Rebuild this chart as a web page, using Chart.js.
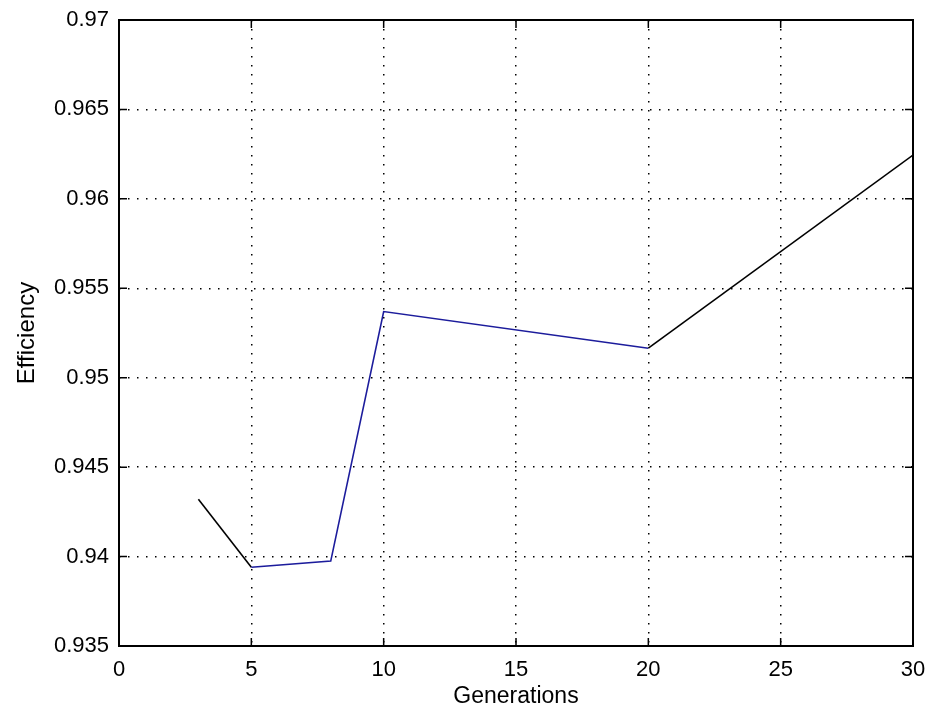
<!DOCTYPE html>
<html>
<head>
<meta charset="utf-8">
<script src="https://cdn.jsdelivr.net/npm/chart.js@4"></script>
<style>
  html, body { margin: 0; padding: 0; background: #fff; }
  #wrap { width: 930px; height: 710px; }
</style>
</head>
<body>
<div id="wrap"><canvas id="chart" width="930" height="710"></canvas></div>
<script>
const generations = [3, 5, 8, 10, 20, 30];
const efficiency = [0.9432, 0.9394, 0.93975, 0.9537, 0.95165, 0.96245];
const xTicks = [0, 5, 10, 15, 20, 25, 30];
const yTicks = [0.935, 0.94, 0.945, 0.95, 0.955, 0.96, 0.965, 0.97];

const BLACK = "#000000";
const BLUE = "#1c1c9c";
const FONT = "'Liberation Sans', Arial, sans-serif";

// MATLAB style box with inward tick marks
const boxPlugin = {
  id: "box",
  afterDraw(chart) {
    const { ctx, chartArea: a, scales } = chart;
    const len = 8;
    ctx.save();
    ctx.strokeStyle = BLACK;
    ctx.lineWidth = 1.5;
    ctx.beginPath();
    for (const v of xTicks) {
      const px = scales.x.getPixelForValue(v);
      ctx.moveTo(px, a.bottom);
      ctx.lineTo(px, a.bottom - len);
      ctx.moveTo(px, a.top);
      ctx.lineTo(px, a.top + len);
    }
    for (const v of yTicks) {
      const py = scales.y.getPixelForValue(v);
      ctx.moveTo(a.left, py);
      ctx.lineTo(a.left + len, py);
      ctx.moveTo(a.right, py);
      ctx.lineTo(a.right - len, py);
    }
    ctx.stroke();
    ctx.lineWidth = 2;
    ctx.strokeRect(a.left, a.top, a.right - a.left, a.bottom - a.top);
    ctx.restore();
  },
};

const points = generations.map((g, i) => ({ x: g, y: efficiency[i] }));

new Chart(document.getElementById("chart"), {
  type: "line",
  data: {
    datasets: [
      {
        data: points,
        borderColor: BLACK,
        borderWidth: 1.6,
        pointRadius: 0,
        tension: 0,
        segment: {
          borderColor(ctx) {
            const i = ctx.p0DataIndex;
            return i >= 1 && i <= 3 ? BLUE : BLACK;
          },
        },
      },
    ],
  },
  options: {
    responsive: false,
    animation: false,
    layout: { padding: { top: 20, right: 17, left: 0, bottom: 0 } },
    plugins: {
      legend: { display: false },
      tooltip: { enabled: false },
    },
    scales: {
      x: {
        type: "linear",
        min: 0,
        max: 30,
        afterBuildTicks(scale) {
          scale.ticks = xTicks.map((v) => ({ value: v }));
        },
        afterFit(scale) {
          scale.height = 64;
          scale.paddingLeft = 0;
          scale.paddingRight = 0;
        },
        border: { display: false, dash: [1.5, 7.5] },
        grid: {
          color: BLACK,
          lineWidth: 1.5,
          drawTicks: false,
        },
        ticks: {
          color: BLACK,
          padding: 11,
          font: { family: FONT, size: 22 },
          maxRotation: 0,
        },
        title: {
          display: true,
          text: "Generations",
          color: BLACK,
          padding: { top: 0, bottom: 0 },
          font: { family: FONT, size: 23 },
        },
      },
      y: {
        type: "linear",
        min: 0.935,
        max: 0.97,
        afterBuildTicks(scale) {
          scale.ticks = yTicks.map((v) => ({ value: v }));
        },
        afterFit(scale) {
          scale.width = 119;
          scale.paddingTop = 0;
          scale.paddingBottom = 0;
        },
        border: { display: false, dash: [1.5, 7.5] },
        grid: {
          color: BLACK,
          lineWidth: 1.5,
          drawTicks: false,
        },
        ticks: {
          color: BLACK,
          padding: 10,
          font: { family: FONT, size: 22 },
          callback(v) {
            return String(+v.toFixed(3));
          },
        },
        title: {
          display: true,
          text: "Efficiency",
          color: BLACK,
          padding: { top: 13, bottom: 0 },
          font: { family: FONT, size: 24 },
        },
      },
    },
  },
  plugins: [boxPlugin],
});
</script>
</body>
</html>
